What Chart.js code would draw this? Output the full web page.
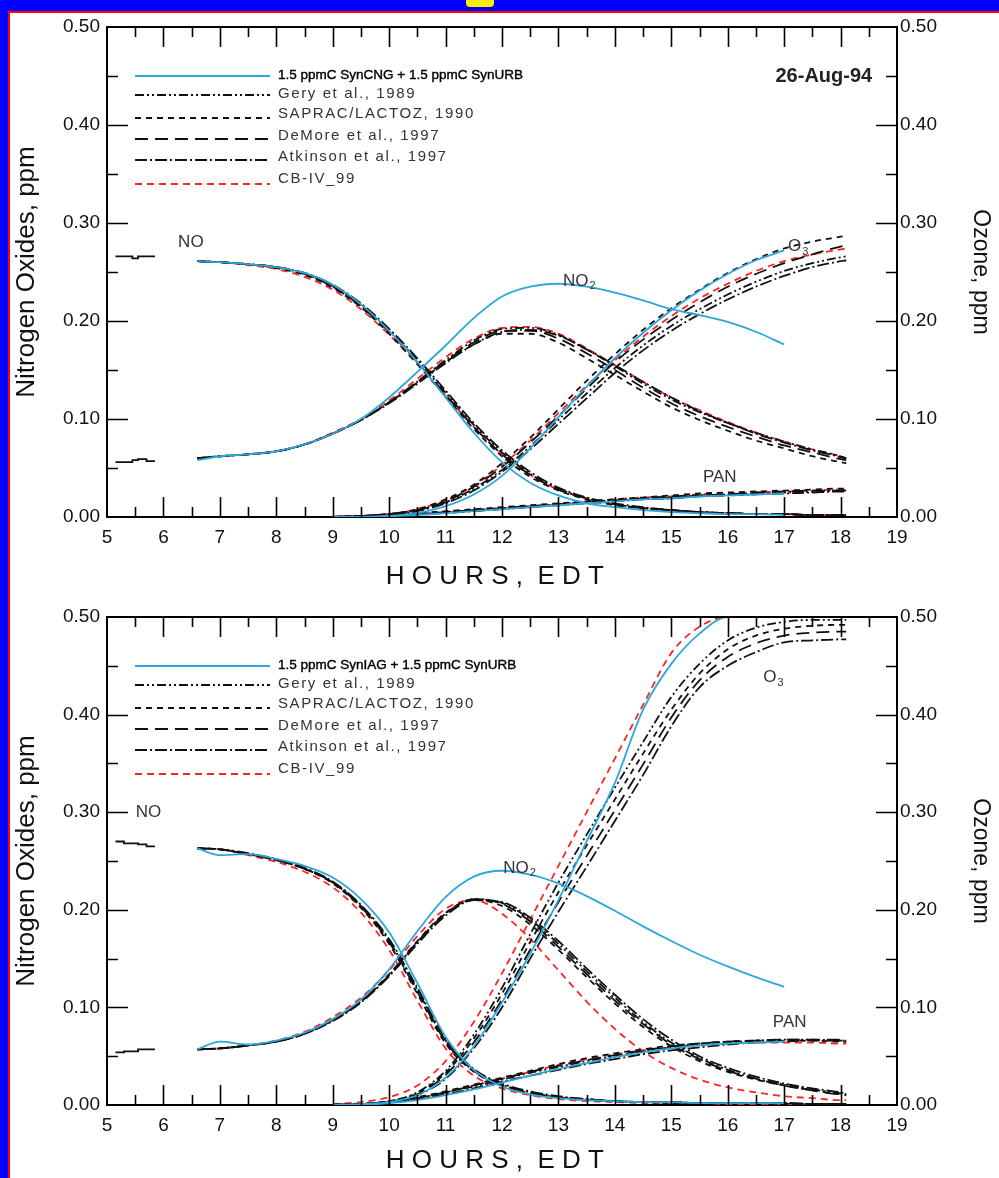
<!DOCTYPE html>
<html>
<head>
<meta charset="utf-8">
<script src="https://cdn.jsdelivr.net/npm/chart.js@4"></script>
<style>
  body { margin:0; width:999px; height:1178px; background:#0000ff; overflow:hidden; position:relative; font-family:"Liberation Sans", Arial, sans-serif; }
  #paper { position:absolute; left:8px; top:11px; right:0; bottom:0; background:#fff; border-left:2px solid #ff0000; border-top:2px solid #ff0000; }
  #blip { position:absolute; left:466px; top:0; width:28px; height:7px; background:#ffee00; border-radius:0 0 4px 4px; }
  .panel { position:absolute; left:0; width:999px; }
</style>
</head>
<body>
<div id="paper"></div>
<div id="blip"></div>
<div class="panel" style="top:0;height:590px"><canvas id="c1" width="999" height="590"></canvas></div>
<div class="panel" style="top:590px;height:588px"><canvas id="c2" width="999" height="588"></canvas></div>
<script>
// ---- datos ----
const xTicks = [5,6,7,8,9,10,11,12,13,14,15,16,17,18,19];
const yTicks = [0, 0.1, 0.2, 0.3, 0.4, 0.5];
const hrs = [6.6,7,7.5,8,8.5,9,9.5,10,10.5,11,11.5,12,12.5,13,13.5,14,14.5,15,15.5,16,16.5,17,17.5,18,18.1];
const measHrs = [5.15,5.3,5.45,5.55,5.7,5.85];
const N = null;

// panel superior: 26-Aug-94, SynCNG
const aMeasNO  = [0.266,0.266,0.264,0.266,0.266,0.266];
const aMeasNO2 = [0.056,0.056,0.058,0.059,0.057,0.057];
const aNO_blue  = [0.261,0.260,0.258,0.255,0.249,0.237,0.217,0.190,0.158,0.122,0.086,0.056,0.035,0.022,0.014,0.010,0.007,0.005,0.004,0.003,0.003,0.002];
const aNO_gery  = [0.261,0.260,0.258,0.255,0.248,0.236,0.216,0.190,0.160,0.127,0.094,0.066,0.044,0.029,0.019,0.013,0.009,0.007,0.005,0.004,0.003,0.003,0.002,0.002,0.002];
const aNO_sap   = [0.261,0.260,0.258,0.254,0.247,0.234,0.214,0.187,0.156,0.123,0.090,0.062,0.041,0.027,0.018,0.012,0.009,0.007,0.005,0.004,0.003,0.003,0.002,0.002,0.002];
const aNO_dem   = [0.261,0.260,0.258,0.255,0.248,0.235,0.215,0.189,0.158,0.125,0.092,0.064,0.043,0.028,0.019,0.013,0.009,0.007,0.005,0.004,0.003,0.003,0.002,0.002,0.002];
const aNO_atk   = [0.261,0.260,0.258,0.255,0.249,0.237,0.218,0.192,0.162,0.129,0.096,0.068,0.046,0.030,0.020,0.014,0.010,0.007,0.005,0.004,0.003,0.003,0.002,0.002,0.002];
const aNO_cb4   = [0.261,0.260,0.257,0.253,0.245,0.232,0.212,0.186,0.156,0.124,0.092,0.064,0.043,0.028,0.019,0.013,0.009,0.007,0.005,0.004,0.003,0.003,0.002,0.002,0.002];
const aNO2_blue = [0.058,0.062,0.064,0.067,0.074,0.085,0.100,0.122,0.148,0.175,0.203,0.225,0.235,0.238,0.235,0.229,0.221,0.212,0.206,0.199,0.189,0.176];
const aNO2_gery = [0.060,0.062,0.064,0.067,0.074,0.085,0.099,0.117,0.138,0.160,0.180,0.192,0.193,0.186,0.171,0.154,0.136,0.120,0.107,0.096,0.086,0.077,0.069,0.062,0.060];
const aNO2_sap  = [0.060,0.062,0.064,0.067,0.074,0.085,0.099,0.117,0.137,0.158,0.176,0.187,0.187,0.178,0.162,0.145,0.128,0.112,0.099,0.088,0.078,0.070,0.062,0.056,0.055];
const aNO2_dem  = [0.060,0.062,0.064,0.067,0.074,0.085,0.099,0.117,0.138,0.159,0.178,0.190,0.190,0.182,0.167,0.150,0.132,0.116,0.103,0.092,0.082,0.073,0.066,0.059,0.058];
const aNO2_atk  = [0.060,0.062,0.064,0.067,0.074,0.085,0.099,0.116,0.136,0.157,0.176,0.189,0.191,0.185,0.171,0.155,0.138,0.122,0.108,0.096,0.085,0.076,0.068,0.061,0.059];
const aNO2_cb4  = [0.060,0.062,0.064,0.067,0.074,0.086,0.100,0.119,0.141,0.163,0.182,0.193,0.194,0.187,0.172,0.155,0.138,0.122,0.109,0.097,0.086,0.077,0.069,0.062,0.060];
const aO3_blue  = [N,N,N,N,N,0.000,0.000,0.001,0.004,0.011,0.023,0.042,0.070,0.102,0.133,0.162,0.188,0.211,0.231,0.248,0.262,0.272];
const aO3_gery  = [N,N,N,N,N,0.000,0.001,0.003,0.007,0.015,0.029,0.048,0.072,0.099,0.126,0.152,0.175,0.195,0.212,0.227,0.240,0.251,0.259,0.265,0.266];
const aO3_sap   = [N,N,N,N,N,0.000,0.001,0.003,0.008,0.018,0.033,0.055,0.081,0.110,0.139,0.166,0.191,0.213,0.232,0.249,0.263,0.274,0.281,0.286,0.287];
const aO3_dem   = [N,N,N,N,N,0.000,0.001,0.003,0.007,0.016,0.031,0.051,0.076,0.103,0.131,0.158,0.181,0.201,0.219,0.235,0.248,0.259,0.268,0.276,0.277];
const aO3_atk   = [N,N,N,N,N,0.000,0.001,0.002,0.006,0.014,0.027,0.046,0.069,0.095,0.121,0.147,0.170,0.190,0.207,0.222,0.235,0.246,0.255,0.261,0.262];
const aO3_cb4   = [N,N,N,N,N,0.000,0.001,0.003,0.008,0.017,0.032,0.053,0.078,0.106,0.134,0.160,0.184,0.205,0.223,0.238,0.251,0.261,0.268,0.273,0.274];
const aPAN_blue = [N,N,N,N,N,0.000,0.000,0.001,0.002,0.004,0.006,0.008,0.010,0.012,0.014,0.016,0.018,0.019,0.021,0.022,0.023,0.024];
const aPAN_gery = [N,N,N,N,N,0.000,0.001,0.002,0.003,0.005,0.007,0.009,0.011,0.013,0.015,0.017,0.019,0.020,0.022,0.023,0.024,0.025,0.026,0.027,0.027];
const aPAN_sap  = [N,N,N,N,N,0.000,0.001,0.002,0.004,0.006,0.008,0.010,0.012,0.014,0.016,0.018,0.020,0.022,0.024,0.025,0.026,0.027,0.028,0.029,0.029];
const aPAN_dem  = [N,N,N,N,N,0.000,0.001,0.002,0.003,0.005,0.007,0.009,0.011,0.013,0.015,0.017,0.019,0.021,0.022,0.023,0.025,0.026,0.027,0.027,0.028];
const aPAN_atk  = [N,N,N,N,N,0.000,0.001,0.002,0.003,0.004,0.006,0.008,0.010,0.012,0.014,0.016,0.018,0.019,0.021,0.022,0.023,0.024,0.025,0.026,0.026];
const aPAN_cb4  = [N,N,N,N,N,0.000,0.001,0.002,0.003,0.005,0.007,0.009,0.011,0.013,0.016,0.018,0.020,0.021,0.023,0.024,0.025,0.026,0.027,0.028,0.028];

// panel inferior: SynIAG
const bMeasNO  = [0.270,0.268,0.268,0.267,0.265,0.265];
const bMeasNO2 = [0.054,0.055,0.055,0.057,0.057,0.057];
const bNO_blue  = [0.263,0.256,0.257,0.252,0.245,0.233,0.211,0.177,0.125,0.070,0.036,0.019,0.011,0.007,0.005,0.004,0.003,0.003,0.002,0.002,0.002,0.002];
const bNO_gery  = [0.263,0.262,0.257,0.251,0.242,0.228,0.204,0.168,0.118,0.066,0.036,0.021,0.013,0.008,0.006,0.004,0.003,0.003,0.002,0.002,0.002,0.002,0.001,0.001,0.001];
const bNO_sap   = [0.263,0.262,0.257,0.251,0.242,0.227,0.202,0.165,0.114,0.063,0.034,0.020,0.012,0.008,0.005,0.004,0.003,0.002,0.002,0.002,0.002,0.001,0.001,0.001,0.001];
const bNO_dem   = [0.263,0.262,0.257,0.251,0.242,0.228,0.203,0.167,0.116,0.065,0.035,0.020,0.013,0.008,0.006,0.004,0.003,0.003,0.002,0.002,0.002,0.002,0.001,0.001,0.001];
const bNO_atk   = [0.263,0.262,0.258,0.252,0.243,0.229,0.205,0.170,0.120,0.068,0.037,0.022,0.014,0.009,0.006,0.004,0.003,0.003,0.002,0.002,0.002,0.002,0.001,0.001,0.001];
const bNO_cb4   = [0.263,0.262,0.256,0.249,0.239,0.223,0.197,0.159,0.107,0.058,0.030,0.017,0.010,0.006,0.004,0.003,0.002,0.002,0.002,0.001,0.001,0.001,0.001,0.001,0.001];
const bNO2_blue = [0.057,0.065,0.062,0.066,0.074,0.088,0.108,0.139,0.178,0.213,0.234,0.240,0.236,0.227,0.214,0.199,0.183,0.168,0.154,0.142,0.131,0.121];
const bNO2_gery = [0.057,0.058,0.061,0.065,0.073,0.087,0.106,0.133,0.167,0.196,0.211,0.207,0.190,0.165,0.137,0.110,0.085,0.064,0.048,0.036,0.027,0.021,0.016,0.012,0.011];
const bNO2_sap  = [0.057,0.058,0.061,0.065,0.073,0.087,0.106,0.134,0.168,0.197,0.210,0.204,0.185,0.159,0.131,0.104,0.080,0.060,0.045,0.034,0.026,0.020,0.015,0.011,0.010];
const bNO2_dem  = [0.057,0.058,0.061,0.065,0.073,0.087,0.106,0.133,0.167,0.196,0.211,0.206,0.188,0.162,0.134,0.107,0.083,0.062,0.047,0.035,0.027,0.020,0.015,0.011,0.011];
const bNO2_atk  = [0.057,0.058,0.061,0.065,0.073,0.086,0.105,0.132,0.165,0.194,0.210,0.208,0.192,0.168,0.140,0.113,0.088,0.067,0.050,0.038,0.029,0.022,0.017,0.013,0.012];
const bNO2_cb4  = [0.057,0.058,0.061,0.066,0.075,0.090,0.110,0.138,0.173,0.201,0.210,0.196,0.170,0.138,0.106,0.078,0.055,0.038,0.026,0.018,0.013,0.009,0.007,0.005,0.005];
const bO3_blue  = [N,N,N,N,N,0.000,0.001,0.003,0.010,0.028,0.060,0.105,0.155,0.210,0.270,0.330,0.405,0.452,0.483,0.500,0.500,0.500];
const bO3_gery  = [N,N,N,N,N,0.000,0.001,0.004,0.013,0.035,0.072,0.120,0.175,0.228,0.277,0.325,0.372,0.418,0.452,0.476,0.489,0.495,0.497,0.497,0.497];
const bO3_sap   = [N,N,N,N,N,0.000,0.001,0.004,0.012,0.033,0.068,0.114,0.167,0.218,0.266,0.313,0.360,0.405,0.442,0.467,0.481,0.488,0.491,0.492,0.492];
const bO3_dem   = [N,N,N,N,N,0.000,0.001,0.003,0.011,0.031,0.064,0.108,0.159,0.208,0.255,0.302,0.349,0.397,0.435,0.459,0.473,0.481,0.484,0.485,0.485];
const bO3_atk   = [N,N,N,N,N,0.000,0.001,0.003,0.010,0.027,0.058,0.100,0.150,0.198,0.244,0.291,0.338,0.388,0.428,0.450,0.464,0.474,0.476,0.477,0.477];
const bO3_cb4   = [N,N,N,N,N,0.001,0.003,0.008,0.020,0.045,0.085,0.135,0.190,0.245,0.300,0.355,0.410,0.463,0.490,0.500,0.500,0.500,0.500,0.500,0.500];
const bPAN_blue = [N,N,N,N,N,0.000,0.000,0.002,0.005,0.010,0.016,0.023,0.030,0.037,0.043,0.049,0.054,0.058,0.061,0.063,0.064,0.065];
const bPAN_gery = [N,N,N,N,N,0.000,0.001,0.003,0.007,0.013,0.019,0.026,0.033,0.039,0.045,0.050,0.055,0.059,0.062,0.064,0.066,0.067,0.067,0.066,0.066];
const bPAN_sap  = [N,N,N,N,N,0.000,0.001,0.003,0.008,0.014,0.021,0.028,0.035,0.042,0.048,0.053,0.057,0.061,0.063,0.065,0.066,0.066,0.066,0.065,0.065];
const bPAN_dem  = [N,N,N,N,N,0.000,0.001,0.003,0.007,0.013,0.020,0.027,0.034,0.040,0.046,0.051,0.056,0.060,0.063,0.065,0.066,0.067,0.067,0.067,0.067];
const bPAN_atk  = [N,N,N,N,N,0.000,0.001,0.003,0.006,0.011,0.017,0.024,0.030,0.036,0.042,0.047,0.052,0.056,0.059,0.062,0.064,0.065,0.066,0.066,0.066];
const bPAN_cb4  = [N,N,N,N,N,0.000,0.001,0.003,0.007,0.013,0.020,0.027,0.034,0.041,0.047,0.052,0.056,0.059,0.061,0.063,0.064,0.064,0.064,0.063,0.063];

const legendA = ['1.5 ppmC SynCNG + 1.5 ppmC SynURB','Gery et al., 1989','SAPRAC/LACTOZ, 1990','DeMore et al., 1997','Atkinson et al., 1997','CB-IV_99'];
const legendB = ['1.5 ppmC SynIAG + 1.5 ppmC SynURB','Gery et al., 1989','SAPRAC/LACTOZ, 1990','DeMore et al., 1997','Atkinson et al., 1997','CB-IV_99'];

// ---- estilos ----
const FONT = '"Liberation Sans", Arial, sans-serif';
const styles = [
  { color: '#2ba7dc', dash: [] },                 // simulación
  { color: '#111111', dash: [9,3,2,3,2,3] },      // Gery
  { color: '#111111', dash: [6,5] },              // SAPRAC
  { color: '#111111', dash: [13,7] },             // DeMore
  { color: '#111111', dash: [12,3,2,3] },         // Atkinson
  { color: '#ff2424', dash: [7,5] }               // CB-IV_99
];

function pts(xs, vals) {
  return vals.map((v, i) => ({ x: xs[i], y: v })).filter(p => p.y !== null);
}

function lineSet(vals, k, axis) {
  return {
    data: pts(hrs, vals),
    borderColor: styles[k].color,
    borderDash: styles[k].dash,
    borderWidth: 1.8,
    pointRadius: 0,
    cubicInterpolationMode: 'monotone',
    yAxisID: axis || 'y'
  };
}

function measSet(vals) {
  return { data: pts(measHrs, vals), borderColor: '#111', borderWidth: 1.8, pointRadius: 0, stepped: true };
}

// plugin: marco, ticks hacia dentro, leyenda y rótulos
const decor = {
  id: 'decor',
  afterDraw(chart, args, opts) {
    const { ctx, chartArea: a, scales } = chart;
    ctx.save();
    ctx.strokeStyle = '#000';
    ctx.lineWidth = 2;
    ctx.beginPath(); ctx.moveTo(a.left, a.top); ctx.lineTo(a.right, a.top); ctx.stroke();

    ctx.lineWidth = 1.6;
    for (let k = 11; k < 38; k++) {
      const x = Math.round(scales.x.getPixelForValue(k / 2)) + 0.5;
      const len = k % 2 === 0 ? 20 : 10;
      ctx.beginPath();
      ctx.moveTo(x, a.bottom); ctx.lineTo(x, a.bottom - len);
      ctx.moveTo(x, a.top); ctx.lineTo(x, a.top + len);
      ctx.stroke();
    }
    for (let k = 1; k < 10; k++) {
      const y = Math.round(scales.y.getPixelForValue(k * 0.05)) + 0.5;
      const len = k % 2 === 0 ? 21 : 11;
      ctx.beginPath();
      ctx.moveTo(a.left, y); ctx.lineTo(a.left + len, y);
      ctx.moveTo(a.right, y); ctx.lineTo(a.right - len, y);
      ctx.stroke();
    }

    // leyenda
    const rows = [48, 67, 87, 109, 130, 152];
    const lineOff = [1, 1, 4, 3, 3, 5];
    opts.legend.forEach((txt, i) => {
      const y = a.top + rows[i];
      ctx.strokeStyle = styles[i].color;
      ctx.lineWidth = 1.8;
      ctx.setLineDash(styles[i].dash);
      ctx.beginPath(); ctx.moveTo(a.left + 28, y + lineOff[i]); ctx.lineTo(a.left + 163, y + lineOff[i]); ctx.stroke();
      ctx.setLineDash([]);
      ctx.textAlign = 'left';
      ctx.textBaseline = 'middle';
      if (i === 0) {
        ctx.fillStyle = '#000';
        ctx.font = '13.5px ' + FONT;
        ctx.letterSpacing = '0px';
        ctx.strokeStyle = '#000';
        ctx.lineWidth = 0.4;
        ctx.strokeText(txt, a.left + 171, y);
      } else {
        ctx.fillStyle = '#333';
        ctx.font = '15px ' + FONT;
        ctx.letterSpacing = '1.6px';
      }
      ctx.fillText(txt, a.left + 171, y);
      ctx.letterSpacing = '0px';
    });

    if (opts.date) {
      ctx.fillStyle = '#222';
      ctx.font = 'bold 20px ' + FONT;
      ctx.textAlign = 'right';
      ctx.textBaseline = 'middle';
      ctx.fillText(opts.date.t, scales.x.getPixelForValue(opts.date.x), scales.y.getPixelForValue(opts.date.y));
    }

    // nombres de las especies
    ctx.fillStyle = '#333';
    ctx.textAlign = 'left';
    ctx.textBaseline = 'middle';
    opts.notes.forEach(n => {
      const x = scales.x.getPixelForValue(n.x);
      const y = scales.y.getPixelForValue(n.y);
      ctx.font = '17px ' + FONT;
      ctx.fillText(n.t, x, y);
      if (n.s) {
        const w = ctx.measureText(n.t).width;
        ctx.font = '11px ' + FONT;
        ctx.fillText(n.s, x + w + 1, y + 5);
      }
    });
    ctx.restore();
  }
};

function makeChart(id, d, legend, notes, date, titlePad) {
  const sets = [];
  sets.push(measSet(d.measNO), measSet(d.measNO2));
  for (let k = 0; k < 6; k++) {
    sets.push(lineSet(d.no[k], k));
    sets.push(lineSet(d.no2[k], k));
    sets.push(lineSet(d.pan[k], k));
    sets.push(lineSet(d.o3[k], k, 'y2'));
  }
  const tickFont = { family: FONT, size: 19 };
  const yAxis = (pos, title, size, pad) => ({
    type: 'linear', position: pos, min: 0, max: 0.5,
    afterBuildTicks: s => { s.ticks = yTicks.map(v => ({ value: v })); },
    afterFit: s => { s.width = pos === 'left' ? 107 : 102; },
    grid: { display: false, drawTicks: false },
    border: { display: true, color: '#000', width: 2 },
    ticks: { font: tickFont, color: '#111', padding: pos === 'left' ? 7 : 3, callback: v => v.toFixed(2) },
    title: { display: true, text: title, color: '#111', font: { family: FONT, size: size, lineHeight: 1 }, padding: { top: pad, bottom: 0 } }
  });
  return new Chart(document.getElementById(id), {
    type: 'line',
    data: { datasets: sets },
    options: {
      responsive: false,
      animation: false,
      events: [],
      layout: { padding: { top: 27, left: 0, right: 0, bottom: 0 } },
      plugins: { legend: { display: false }, tooltip: { enabled: false }, decor: { legend, notes, date } },
      scales: {
        x: {
          type: 'linear', min: 5, max: 19,
          afterBuildTicks: s => { s.ticks = xTicks.map(v => ({ value: v })); },
          afterFit: s => { s.height = 73; },
          grid: { display: false, drawTicks: false },
          border: { display: true, color: '#000', width: 2 },
          ticks: { font: tickFont, color: '#111', padding: 9, maxRotation: 0 },
          title: { display: true, text: 'H O U R S ,  E D T  ', color: '#111', font: { family: FONT, size: 26, lineHeight: 1 }, padding: { top: 0, bottom: titlePad } }
        },
        y: yAxis('left', 'Nitrogen Oxides, ppm', 26, 14),
        y2: yAxis('right', 'Ozone, ppm', 23, 7)
      }
    },
    plugins: [decor]
  });
}

makeChart('c1', {
  measNO: aMeasNO, measNO2: aMeasNO2,
  no:  [aNO_blue, aNO_gery, aNO_sap, aNO_dem, aNO_atk, aNO_cb4],
  no2: [aNO2_blue, aNO2_gery, aNO2_sap, aNO2_dem, aNO2_atk, aNO2_cb4],
  o3:  [aO3_blue, aO3_gery, aO3_sap, aO3_dem, aO3_atk, aO3_cb4],
  pan: [aPAN_blue, aPAN_gery, aPAN_sap, aPAN_dem, aPAN_atk, aPAN_cb4]
}, legendA, [
  { t: 'NO', s: '', x: 6.26, y: 0.280 },
  { t: 'NO', s: '2', x: 13.08, y: 0.241 },
  { t: 'O', s: '3', x: 17.07, y: 0.276 },
  { t: 'PAN', s: '', x: 15.56, y: 0.041 }
], { t: '26-Aug-94', x: 18.56, y: 0.450 }, 0);

makeChart('c2', {
  measNO: bMeasNO, measNO2: bMeasNO2,
  no:  [bNO_blue, bNO_gery, bNO_sap, bNO_dem, bNO_atk, bNO_cb4],
  no2: [bNO2_blue, bNO2_gery, bNO2_sap, bNO2_dem, bNO2_atk, bNO2_cb4],
  o3:  [bO3_blue, bO3_gery, bO3_sap, bO3_dem, bO3_atk, bO3_cb4],
  pan: [bPAN_blue, bPAN_gery, bPAN_sap, bPAN_dem, bPAN_atk, bPAN_cb4]
}, legendB, [
  { t: 'NO', s: '', x: 5.51, y: 0.300 },
  { t: 'NO', s: '2', x: 12.02, y: 0.243 },
  { t: 'O', s: '3', x: 16.63, y: 0.438 },
  { t: 'PAN', s: '', x: 16.80, y: 0.085 }
], null, 4);
</script>
</body>
</html>
